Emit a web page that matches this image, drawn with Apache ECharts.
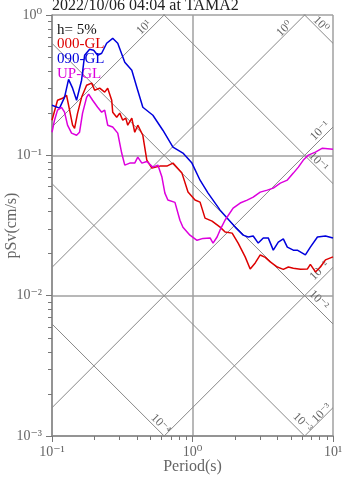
<!DOCTYPE html>
<html><head><meta charset="utf-8">
<script src="https://cdn.jsdelivr.net/npm/echarts@6/dist/echarts.min.js"></script>
<style>html,body{margin:0;padding:0;background:#fff}#c{width:347px;height:478px}</style>
</head><body><div id="c"></div>
<script>
const titleText = '2022/10/06 04:04 at TAMA2';
const dampingText = 'h= 5%';
const seriesNames = ['000-GL', '090-GL', 'UP-GL'];

const period_000 = [0.1, 0.1095, 0.1189, 0.1269, 0.1334, 0.1401, 0.1448, 0.1521, 0.1624, 0.1763, 0.1915, 0.2012, 0.2184, 0.2371, 0.2491, 0.2661, 0.2704, 0.2888, 0.3034, 0.3188, 0.335, 0.346, 0.3698, 0.388, 0.408, 0.443, 0.473, 0.514, 0.586, 0.657, 0.726, 0.841, 0.929, 1.042, 1.132, 1.228, 1.378, 1.572, 1.707, 1.915, 2.113, 2.371, 2.574, 2.795, 3.034, 3.296, 3.578, 4.014, 4.43, 4.81, 5.22, 5.86, 6.58, 6.90, 7.50, 8.14, 8.84, 10];
const sv_000 = [0.178, 0.247, 0.255, 0.268, 0.210, 0.164, 0.156, 0.200, 0.259, 0.316, 0.327, 0.291, 0.301, 0.282, 0.301, 0.247, 0.203, 0.187, 0.200, 0.178, 0.184, 0.164, 0.184, 0.146, 0.164, 0.139, 0.0925, 0.0811, 0.0838, 0.0838, 0.088, 0.0747, 0.0547, 0.048, 0.0464, 0.0357, 0.034, 0.0308, 0.0284, 0.0279, 0.0237, 0.0189, 0.0155, 0.0171, 0.0195, 0.01875, 0.0174, 0.016, 0.0154, 0.016, 0.0157, 0.0154, 0.0155, 0.0167, 0.01476, 0.016, 0.018, 0.0189];

const period_090 = [0.1, 0.1131, 0.1228, 0.1312, 0.1401, 0.1496, 0.1624, 0.1706, 0.1853, 0.1979, 0.2113, 0.2257, 0.2449, 0.2704, 0.2937, 0.3296, 0.3698, 0.4014, 0.4431, 0.5224, 0.6152, 0.726, 0.855, 0.991, 1.132, 1.291, 1.572, 1.763, 2.012, 2.294, 2.49, 2.704, 2.937, 3.19, 3.46, 3.758, 4.08, 4.43, 4.73, 5.22, 5.57, 6.36, 6.90, 7.75, 8.84, 10];
const sv_090 = [0.2275, 0.217, 0.259, 0.348, 0.301, 0.247, 0.343, 0.516, 0.570, 0.561, 0.516, 0.534, 0.629, 0.682, 0.629, 0.4605, 0.404, 0.306, 0.220, 0.193, 0.151, 0.1144, 0.1038, 0.088, 0.0665, 0.0538, 0.0407, 0.0357, 0.0308, 0.0270, 0.0262, 0.0266, 0.0237, 0.0258, 0.0258, 0.0211, 0.0241, 0.0254, 0.0222, 0.0211, 0.0211, 0.0195, 0.0222, 0.0262, 0.0266, 0.0258];

const period_up = [0.1, 0.1042, 0.1095, 0.1169, 0.1228, 0.129, 0.1378, 0.1496, 0.157, 0.165, 0.1763, 0.1822, 0.1946, 0.2113, 0.2257, 0.2371, 0.2491, 0.2704, 0.2937, 0.3133, 0.3296, 0.3578, 0.388, 0.408, 0.436, 0.473, 0.522, 0.567, 0.606, 0.636, 0.668, 0.75, 0.814, 0.855, 0.959, 1.077, 1.189, 1.334, 1.40, 1.496, 1.572, 1.707, 1.946, 2.184, 2.449, 2.704, 3.034, 3.405, 3.758, 4.217, 4.73, 5.22, 5.67, 6.15, 6.68, 7.50, 8.41, 10];
const sv_up = [0.146, 0.178, 0.210, 0.220, 0.203, 0.164, 0.144, 0.139, 0.146, 0.200, 0.259, 0.273, 0.247, 0.220, 0.203, 0.210, 0.164, 0.159, 0.144, 0.1038, 0.0852, 0.088, 0.088, 0.0971, 0.088, 0.0904, 0.0824, 0.0852, 0.070, 0.0538, 0.048, 0.0462, 0.0345, 0.0307, 0.027, 0.0248, 0.0256, 0.0258, 0.0237, 0.0262, 0.0294, 0.0346, 0.0421, 0.0457, 0.048, 0.0504, 0.0547, 0.0565, 0.0584, 0.0634, 0.0666, 0.0747, 0.0824, 0.0925, 0.1003, 0.1054, 0.1125, 0.1107];

// tripartite reference levels: acceleration (cm/s^2) and displacement (cm)
const accelLevels = [10, 1, 0.1, 0.01, 0.001];
const accelLabels = ['10¹', '10⁰', '10⁻¹', '10⁻²', '10⁻³'];
const dispLevels = [1, 0.1, 0.01, 0.001, 0.0001];
const dispLabels = ['10⁰', '10⁻¹', '10⁻²', '10⁻³', '10⁻⁴'];

const xTickLabels = { '-1': '10⁻¹', '0': '10⁰', '1': '10¹' };
const yTickLabels = { '-3': '10⁻³', '-2': '10⁻²', '-1': '10⁻¹', '0': '10⁰' };
const xMinorTicks = [0.2, 0.3, 0.4, 0.5, 0.6, 0.7, 0.8, 0.9, 2, 3, 4, 5, 6, 7, 8, 9];
const yMinorTicks = [0.002, 0.003, 0.004, 0.005, 0.006, 0.007, 0.008, 0.009, 0.02, 0.03, 0.04, 0.05, 0.06, 0.07, 0.08, 0.09, 0.2, 0.3, 0.4, 0.5, 0.6, 0.7, 0.8, 0.9];

const X_MIN = 0.1, X_MAX = 10, Y_MIN = 0.001, Y_MAX = 1;
const TWO_PI = 2 * Math.PI;
const SERIF = '"Liberation Serif", "DejaVu Serif", serif';
const GRAY = '#666';
const colors = ['#dd0000', '#0000dd', '#dd00dd'];

function zip(a, b) { return a.map((v, i) => [v, b[i]]); }
function expKey(v) { return String(Math.round(Math.log10(v))); }

const chart = echarts.init(document.getElementById('c'), null, { renderer: 'canvas' });

const series = [];
accelLevels.forEach(A => {
  series.push({
    type: 'line', silent: true, clip: true, showSymbol: false, z: 1,
    data: [[X_MIN, A * X_MIN / TWO_PI], [X_MAX, A * X_MAX / TWO_PI]],
    lineStyle: { color: '#888', width: 1 }
  });
});
dispLevels.forEach(D => {
  series.push({
    type: 'line', silent: true, clip: true, showSymbol: false, z: 1,
    data: [[X_MIN, TWO_PI * D / X_MIN], [X_MAX, TWO_PI * D / X_MAX]],
    lineStyle: { color: '#888', width: 1 }
  });
});

const accelLabelPos = [[23, 5.5], [24, 4.5], [12, 6.4], [12, 7], [12, 4]];
const dispLabelPos = [[22, 5], [26, 5], [27, 7], [11, 8], [11, 6]];
const labelData = [];
accelLevels.forEach((A, i) => {
  let end;
  if (TWO_PI / A <= X_MAX) end = [TWO_PI / A, Y_MAX]; else end = [X_MAX, A * X_MAX / TWO_PI];
  labelData.push([end[0], end[1], 0, i]);
});
dispLevels.forEach((D, i) => {
  let end;
  if (TWO_PI * D / X_MAX >= Y_MIN) end = [X_MAX, TWO_PI * D / X_MAX]; else end = [TWO_PI * D / Y_MIN, Y_MIN];
  labelData.push([end[0], end[1], 1, i]);
});
const s2 = Math.SQRT1_2;
series.push({
  type: 'custom', silent: true, clip: false, z: 3,
  data: labelData,
  renderItem: function (params, api) {
    const p = api.coord([api.value(0), api.value(1)]);
    const kind = api.value(2), i = api.value(3);
    let cx, cy, rot, txt;
    if (kind === 0) {
      const [al, pe] = accelLabelPos[i];
      cx = p[0] - al * s2 - pe * s2; cy = p[1] + al * s2 - pe * s2;
      rot = Math.PI / 4; txt = accelLabels[i];
    } else {
      const [al, pe] = dispLabelPos[i];
      cx = p[0] - al * s2 + pe * s2; cy = p[1] - al * s2 - pe * s2;
      rot = -Math.PI / 4; txt = dispLabels[i];
    }
    return {
      type: 'text', x: cx, y: cy, rotation: rot,
      style: { text: txt, fill: GRAY, font: '12px ' + SERIF, align: 'center', verticalAlign: 'middle' }
    };
  }
});

series.push({
  type: 'custom', silent: true, clip: false, z: 3,
  data: yMinorTicks.map(v => [X_MIN, v]),
  renderItem: function (params, api) {
    const p = api.coord([api.value(0), api.value(1)]);
    const y = Math.round(p[1]) + 0.5;
    return { type: 'line', shape: { x1: p[0] - 4, y1: y, x2: p[0], y2: y }, style: { stroke: '#777', lineWidth: 1 } };
  }
});
series.push({
  type: 'custom', silent: true, clip: false, z: 3,
  data: xMinorTicks.map(v => [v, Y_MIN]),
  renderItem: function (params, api) {
    const p = api.coord([api.value(0), api.value(1)]);
    const x = Math.round(p[0]) + 0.5;
    return { type: 'line', shape: { x1: x, y1: p[1], x2: x, y2: p[1] + 4 }, style: { stroke: '#777', lineWidth: 1 } };
  }
});

[[period_000, sv_000], [period_090, sv_090], [period_up, sv_up]].forEach((d, i) => {
  series.push({
    name: seriesNames[i], type: 'line', showSymbol: false, clip: true, z: 5,
    data: zip(d[0], d[1]),
    lineStyle: { color: colors[i], width: 1.5 }, itemStyle: { color: colors[i] }
  });
});

chart.setOption({
  animation: false,
  backgroundColor: '#fff',
  title: {
    text: titleText, left: 52, top: -2, padding: 0,
    textStyle: { fontFamily: SERIF, fontSize: 16, fontWeight: 'normal', color: '#222' }
  },
  legend: {
    orient: 'vertical', left: 52, top: 37, padding: 0, icon: 'none',
    itemWidth: 0, itemHeight: 15, itemGap: 0, selectedMode: false,
    textStyle: { fontFamily: SERIF, fontSize: 15, lineHeight: 15 },
    data: seriesNames.map((n, i) => ({ name: n, textStyle: { color: colors[i] } }))
  },
  graphic: [{
    type: 'text', left: 57, top: 23, z: 10,
    style: { text: dampingText, font: '15px ' + SERIF, fill: '#111' }
  }],
  grid: { left: 52, right: 14, top: 15, bottom: 42, outerBoundsMode: 'none' },
  xAxis: {
    type: 'log', logBase: 10, min: X_MIN, max: X_MAX,
    name: 'Period(s)', nameLocation: 'middle', nameGap: 23, nameMoveOverlap: false,
    nameTextStyle: { fontFamily: SERIF, fontSize: 16, color: GRAY },
    axisLine: { lineStyle: { color: '#888', width: 1.5 } },
    axisTick: { show: true, length: 6, lineStyle: { color: '#777' } },
    axisLabel: {
      fontFamily: SERIF, fontSize: 14, color: GRAY, margin: 9, hideOverlap: false,
      formatter: v => xTickLabels[expKey(v)] || ''
    },
    splitLine: { show: true, lineStyle: { color: '#a0a0a0', width: 1.5 } }
  },
  yAxis: {
    type: 'log', logBase: 10, min: Y_MIN, max: Y_MAX,
    name: 'pSv(cm/s)', nameLocation: 'middle', nameGap: 32, nameMoveOverlap: false,
    nameTextStyle: { fontFamily: SERIF, fontSize: 16, color: GRAY },
    axisLine: { lineStyle: { color: '#888', width: 1.5 } },
    axisTick: { show: true, length: 6, lineStyle: { color: '#777' } },
    axisLabel: {
      fontFamily: SERIF, fontSize: 14, color: GRAY, margin: 10,
      formatter: v => yTickLabels[expKey(v)] || ''
    },
    splitLine: { show: true, lineStyle: { color: '#a0a0a0', width: 1.5 } }
  },
  series: series
});
</script>
</body></html>
